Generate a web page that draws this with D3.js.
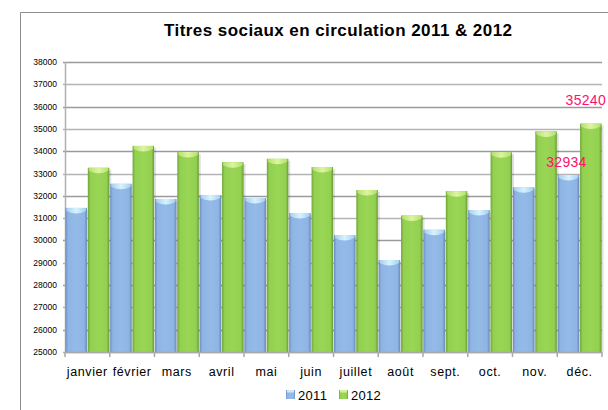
<!DOCTYPE html>
<html><head><meta charset="utf-8">
<script src="https://cdn.jsdelivr.net/npm/d3@7"></script>
<style>body{margin:0;background:#fff}svg{display:block}</style>
</head><body>
<svg id="c" width="608" height="410"></svg>
<script>
const months = ["janvier","février","mars","avril","mai","juin","juillet","août","sept.","oct.","nov.","déc."];
const series = ["2011","2012"];
const values2011 = [31460,32540,31860,32040,31900,31230,30240,29120,30480,31360,32380,32934];
const values2012 = [33260,34240,33960,33510,33660,33290,32260,31120,32210,33950,34890,35240];
const yTicks = [25000,26000,27000,28000,29000,30000,31000,32000,33000,34000,35000,36000,37000,38000];
const title = "Titres sociaux en circulation 2011 & 2012";

const svg = d3.select("#c");
const W=608,H=410;
const m={l:65,r:602,t:62,b:352};

svg.append("path").attr("d",`M20.5,${H} L20.5,12.5 L${W},12.5`).attr("fill","none").attr("stroke","#8c8c8c").attr("stroke-width",1);

const defs=svg.append("defs");
function hgrad(id,stops){
  const g=defs.append("linearGradient").attr("id",id).attr("x1","0").attr("x2","1").attr("y1","0").attr("y2","0");
  stops.forEach(s=>g.append("stop").attr("offset",s[0]).attr("stop-color",s[1]));
}
hgrad("gBlue",[[0,"#6a8dc0"],[0.12,"#8db4e3"],[0.5,"#94bbe8"],[0.88,"#8db4e3"],[1,"#6588b9"]]);
hgrad("gGreen",[[0,"#6fa536"],[0.12,"#92d050"],[0.5,"#9ad656"],[0.88,"#92d050"],[1,"#699a33"]]);
hgrad("cBlue",[[0,"#a6d0f0"],[0.5,"#d8f2ff"],[1,"#a6d0f0"]]);
hgrad("cGreen",[[0,"#b6e070"],[0.5,"#dcf5a0"],[1,"#b6e070"]]);

const y=d3.scaleLinear().domain([25000,38000]).range([m.b,m.t]);
const x=d3.scaleBand().domain(months).range([m.l,m.r]).paddingInner(0.02).paddingOuter(0.01);
const xs=d3.scaleBand().domain(series).range([0,x.bandwidth()]).paddingInner(0.04);

svg.append("g").selectAll("line").data(yTicks).join("line")
  .attr("x1",m.l-2).attr("x2",m.r).attr("y1",d=>Math.round(y(d))+0.5).attr("y2",d=>Math.round(y(d))+0.5)
  .attr("stroke",(d,i)=>i%2?"#9a9a9a":"#b4b4b4").attr("stroke-width",1.6);

svg.append("g").selectAll("text").data(yTicks).join("text")
  .attr("x",57).attr("y",d=>y(d)).attr("dy","0.35em").attr("text-anchor","end")
  .attr("font-family","Liberation Sans, Arial, sans-serif").attr("font-size",8.5).attr("fill","#000")
  .text(d=>d);

svg.append("line").attr("x1",m.l+0.5).attr("x2",m.l+0.5).attr("y1",m.t).attr("y2",m.b).attr("stroke","#b0b0b0").attr("stroke-width",1.5);

const data=months.map((mo,i)=>({mo,vals:[{s:"2011",v:values2011[i]},{s:"2012",v:values2012[i]}]}));
const g=svg.append("g");
const groups=g.selectAll("g").data(data).join("g").attr("transform",d=>`translate(${x(d.mo)},0)`);
const bars=groups.selectAll("g.bar").data(d=>d.vals).join("g").attr("class","bar");
bars.append("rect").attr("x",d=>xs(d.s)+2).attr("y",d=>y(d.v)+2).attr("width",xs.bandwidth()).attr("height",d=>m.b-y(d.v)-2)
  .attr("fill","#000").attr("opacity",0.12);
bars.append("rect").attr("x",d=>xs(d.s)).attr("y",d=>y(d.v)).attr("width",xs.bandwidth()).attr("height",d=>m.b-y(d.v))
  .attr("fill",d=>d.s==="2011"?"url(#gBlue)":"url(#gGreen)");
bars.append("path").attr("d",d=>{
  const x0=xs(d.s),x1=x0+xs.bandwidth(),t=y(d.v),mx=(x0+x1)/2;
  return `M${x0+1},${t} L${x1-1},${t} L${x1-1},${t+3} Q${mx},${t+8} ${x0+1},${t+3} Z`;
}).attr("fill",d=>d.s==="2011"?"url(#cBlue)":"url(#cGreen)");

svg.append("line").attr("x1",m.l).attr("x2",m.r).attr("y1",m.b+0.5).attr("y2",m.b+0.5).attr("stroke","#a8a8a8").attr("stroke-width",1.5);
const bounds=months.map(mo=>x(mo)-x.step()*x.paddingInner()/2).concat([m.r]);
svg.append("g").selectAll("line").data(bounds).join("line")
  .attr("x1",d=>d).attr("x2",d=>d).attr("y1",m.b).attr("y2",m.b+5).attr("stroke","#a8a8a8").attr("stroke-width",1.5);

svg.append("g").selectAll("text").data(months).join("text")
  .attr("x",d=>x(d)+x.bandwidth()/2).attr("y",372).attr("dy","0.35em").attr("text-anchor","middle")
  .attr("font-family","Liberation Sans, Arial, sans-serif").attr("font-size",12.5).attr("letter-spacing",0.6).attr("fill","#000")
  .text(d=>d);

// data labels (décembre)
const last=months.length-1;
const lab=[{s:"2011",v:values2011[last],dy:-13,dx:-2,anchor:"middle"},{s:"2012",v:values2012[last],dy:-23,dx:0,anchor:"end"}];
svg.append("g").selectAll("text").data(lab).join("text")
  .attr("x",d=>d.anchor==="end"?W-2:x(months[last])+xs(d.s)+xs.bandwidth()/2+d.dx).attr("y",d=>y(d.v)+d.dy).attr("dy","0.35em")
  .attr("text-anchor",d=>d.anchor).attr("font-family","Liberation Sans, Arial, sans-serif").attr("font-size",14)
  .attr("letter-spacing",0.3).attr("fill","#ff0f6e").text(d=>d.v);

svg.append("text").attr("x",338).attr("y",30).attr("dy","0.35em").attr("text-anchor","middle")
  .attr("font-family","Liberation Sans, Arial, sans-serif").attr("font-weight","bold").attr("font-size",17)
  .attr("textLength",348).attr("lengthAdjust","spacing").text(title);

const leg=svg.append("g");
const legItems=[{s:"2011",x:286,c:"url(#gBlue)",cap:"#cfe6fb"},{s:"2012",x:339,c:"url(#gGreen)",cap:"#d2f09a"}];
legItems.forEach(d=>{
  leg.append("rect").attr("x",d.x).attr("y",390).attr("width",9).attr("height",9).attr("fill",d.c);
  leg.append("rect").attr("x",d.x+1).attr("y",390).attr("width",7).attr("height",2.5).attr("fill",d.cap);
  leg.append("text").attr("x",d.x+12).attr("y",395).attr("dy","0.35em")
    .attr("font-family","Liberation Sans, Arial, sans-serif").attr("font-size",13).attr("letter-spacing",0.3).text(d.s);
});
</script>
</body></html>
